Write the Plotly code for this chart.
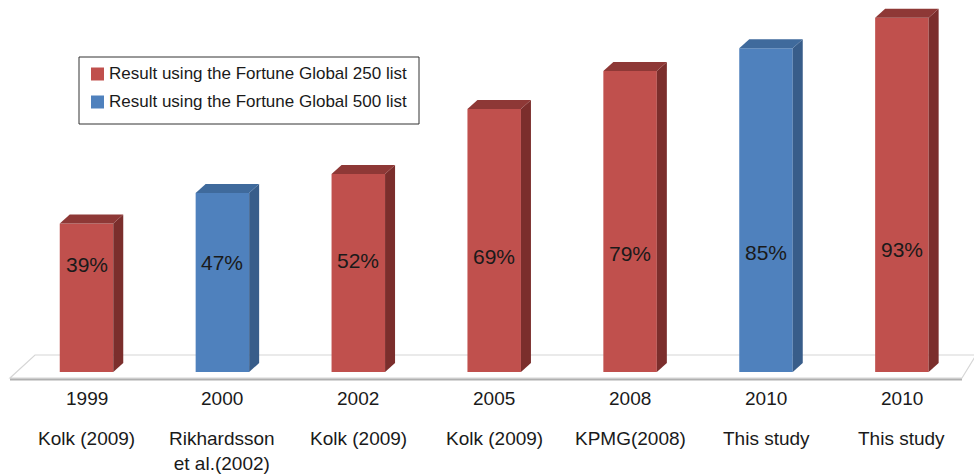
import plotly.graph_objects as go

# ---- data ----
years = ["1999", "2000", "2002", "2005", "2008", "2010", "2010"]
sources = ["Kolk (2009)", "Rikhardsson<br>et al.(2002)", "Kolk (2009)", "Kolk (2009)",
           "KPMG(2008)", "This study", "This study"]
values = [39, 47, 52, 69, 79, 85, 93]
lists = ["250", "500", "250", "250", "250", "500", "250"]
series_names = {"250": "Result using the Fortune Global 250 list",
                "500": "Result using the Fortune Global 500 list"}

# ---- style ----
W, H = 974, 475
front = {"250": "#C0504D", "500": "#4F81BD"}
side = {"250": "#7B2E2C", "500": "#385D8A"}
top = {"250": "#8E3836", "500": "#3F6A9C"}
FONT = "Liberation Sans, Arial, sans-serif"

# pixel geometry -> axis mapping
x0_px, step_px = 86.5, 135.9
base_px, px_per_unit = 372.0, 3.81
xr = [-x0_px / step_px, (W - x0_px) / step_px]
yr = [(base_px - H) / px_per_unit, base_px / px_per_unit]
bw = 53.5 / step_px
dx = 10 / step_px
dy = 9 / px_per_unit


def px2x(p):
    return (p - x0_px) / step_px


def px2y(p):
    return (base_px - p) / px_per_unit


fig = go.Figure()
idx = list(range(len(values)))
for key in ["250", "500"]:
    xs = [i for i in idx if lists[i] == key]
    ys = [values[i] for i in idx if lists[i] == key]
    fig.add_trace(go.Bar(x=xs, y=ys, width=bw, marker=dict(color=front[key], line=dict(width=0)),
                         name=series_names[key], showlegend=False, hoverinfo="skip"))

shapes = []
# floor
fl = [(35, 355), (976, 355), (962, 378), (10, 378)]
path = "M " + " L ".join(f"{px2x(a)},{px2y(b)}" for a, b in fl) + " Z"
shapes.append(dict(type="path", path=path, xref="x", yref="y", fillcolor="#FFFFFF",
                   line=dict(color="#D6D6D6", width=1.2), layer="below"))
shapes.append(dict(type="line", xref="x", yref="y", x0=px2x(10), x1=px2x(962),
                   y0=px2y(379.5), y1=px2y(379.5), line=dict(color="#B0B0B0", width=2), layer="below"))

for i, v in enumerate(values):
    k = lists[i]
    xl, xrr = i - bw / 2, i + bw / 2
    sp = f"M {xrr},0 L {xrr+dx},{dy} L {xrr+dx},{v+dy} L {xrr},{v} Z"
    shapes.append(dict(type="path", path=sp, xref="x", yref="y", fillcolor=side[k],
                       line=dict(width=0), layer="above"))
    tp = f"M {xl},{v} L {xl+dx},{v+dy} L {xrr+dx},{v+dy} L {xrr},{v} Z"
    shapes.append(dict(type="path", path=tp, xref="x", yref="y", fillcolor=top[k],
                       line=dict(width=0), layer="above"))

annotations = []
for i, v in enumerate(values):
    ly = 275 - 0.27 * v
    annotations.append(dict(x=i, y=px2y(ly), xref="x", yref="y", text=f"{v}%", showarrow=False,
                            font=dict(family=FONT, size=21, color="#1A1A1A"), xanchor="center", yanchor="middle"))
    annotations.append(dict(x=i, y=px2y(398), xref="x", yref="y", text=years[i], showarrow=False,
                            font=dict(family=FONT, size=19, color="#1A1A1A"), xanchor="center", yanchor="middle"))
    annotations.append(dict(x=i, y=px2y(426), xref="x", yref="y", text=sources[i], showarrow=False,
                            font=dict(family=FONT, size=19, color="#1A1A1A"), xanchor="center", yanchor="top"))

# legend (drawn manually)
shapes.append(dict(type="rect", xref="paper", yref="paper", x0=79 / W, x1=419 / W,
                   y0=1 - 124 / H, y1=1 - 57 / H, line=dict(color="#333333", width=1),
                   fillcolor="#FFFFFF", layer="above"))
for j, (key, cy) in enumerate([("250", 74), ("500", 102)]):
    shapes.append(dict(type="rect", xref="paper", yref="paper", x0=91 / W, x1=104 / W,
                       y0=1 - (cy + 6.5) / H, y1=1 - (cy - 6.5) / H, line=dict(width=0),
                       fillcolor=front[key], layer="above"))
    annotations.append(dict(x=107 / W, y=1 - cy / H, xref="paper", yref="paper", text=series_names[key],
                            showarrow=False, xanchor="left", yanchor="middle",
                            font=dict(family=FONT, size=17, color="#1A1A1A")))

fig.update_layout(
    width=W, height=H, margin=dict(l=0, r=0, t=0, b=0),
    paper_bgcolor="white", plot_bgcolor="white",
    xaxis=dict(range=xr, visible=False, fixedrange=True),
    yaxis=dict(range=yr, visible=False, fixedrange=True),
    shapes=shapes, annotations=annotations, barmode="overlay", showlegend=False,
)

fig.write_html("out.html")
